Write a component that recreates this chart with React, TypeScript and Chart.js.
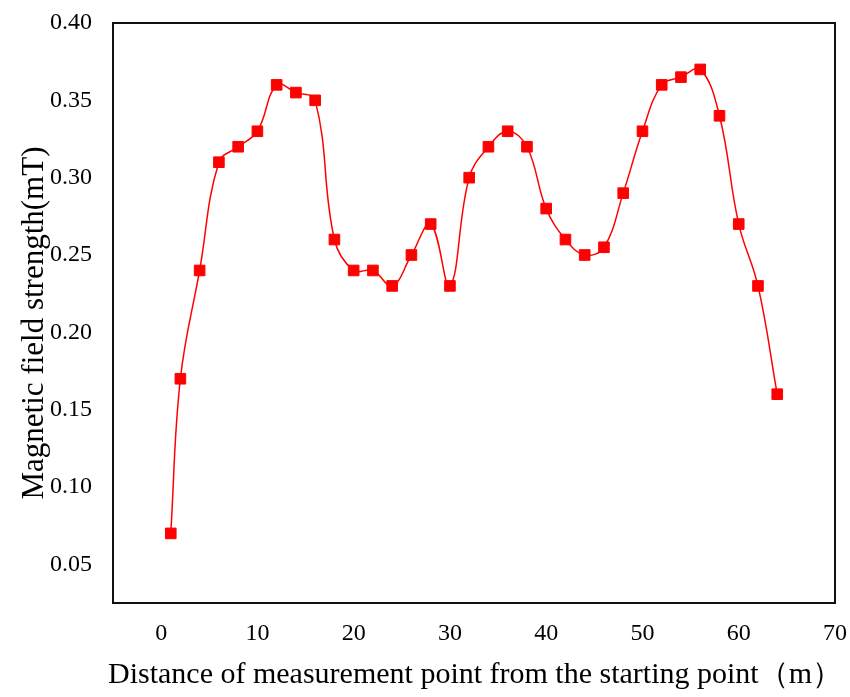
import React, { useEffect, useRef } from "react";
import { Chart, registerables } from "chart.js";

Chart.register(...registerables);

const distances = [1, 2, 4, 6, 8, 10, 12, 14, 16, 18, 20, 22, 24, 26, 28, 30, 32, 34, 36, 38, 40, 42, 44, 46, 48, 50, 52, 54, 56, 58, 60, 62, 64];
const fieldStrength = [0.07, 0.17, 0.24, 0.31, 0.32, 0.33, 0.36, 0.355, 0.35, 0.26, 0.24, 0.24, 0.23, 0.25, 0.27, 0.23, 0.30, 0.32, 0.33, 0.32, 0.28, 0.26, 0.25, 0.255, 0.29, 0.33, 0.36, 0.365, 0.37, 0.34, 0.27, 0.23, 0.16];
const xTicks = [0, 10, 20, 30, 40, 50, 60, 70];
const yTicks = [0.05, 0.10, 0.15, 0.20, 0.25, 0.30, 0.35, 0.40];

const xTitle = "Distance of measurement point from the starting point（m）";
const yTitle = "Magnetic field strength(mT)";

const FONT = "'Liberation Serif', 'Times New Roman', serif";

const framePlugin = {
  id: "frame",
  afterDraw(chart: any) {
    const { ctx, chartArea } = chart;
    ctx.save();
    ctx.strokeStyle = "#111";
    ctx.lineWidth = 2;
    ctx.strokeRect(chartArea.left, chartArea.top, chartArea.right - chartArea.left, chartArea.bottom - chartArea.top);
    ctx.restore();
  },
};

const titlesPlugin = {
  id: "axisTitles",
  afterDraw(chart: any) {
    const { ctx } = chart;
    ctx.save();
    ctx.fillStyle = "#000";
    ctx.textAlign = "center";
    ctx.textBaseline = "alphabetic";
    ctx.font = `30px ${FONT}`;
    ctx.fillText(xTitle, 475, 683);
    ctx.translate(43, 323);
    ctx.rotate(-Math.PI / 2);
    ctx.font = `31px ${FONT}`;
    ctx.fillText(yTitle, 0, 0);
    ctx.restore();
  },
};

export default function App() {
  const ref = useRef<HTMLCanvasElement | null>(null);
  useEffect(() => {
    document.body.style.margin = "0";
    const canvas = ref.current!;
    const chart = new Chart(canvas, {
      type: "line",
      data: {
        datasets: [
          {
            data: distances.map((d, i) => ({ x: d, y: fieldStrength[i] })),
            borderColor: "#FF0000",
            backgroundColor: "#FF0000",
            borderWidth: 1.5,
            tension: 0.4,
            pointStyle: "rect",
            pointRadius: 7.5,
            pointBorderWidth: 1,
            pointBorderColor: "#FF0000",
            pointBackgroundColor: "#FF0000",
            fill: false,
          },
        ],
      },
      options: {
        responsive: false,
        animation: false,
        layout: { padding: { top: 23, right: 15, bottom: 0, left: 0 } },
        plugins: { legend: { display: false }, tooltip: { enabled: false } },
        scales: {
          x: {
            type: "linear",
            min: -5,
            max: 70,
            grid: { display: false, drawTicks: false },
            border: { display: false },
            afterBuildTicks: (axis: any) => {
              axis.ticks = xTicks.map((v) => ({ value: v }));
            },
            afterFit: (axis: any) => {
              axis.height = 94;
              axis.paddingLeft = 0;
              axis.paddingRight = 0;
            },
            ticks: {
              padding: 16,
              color: "#000",
              font: { family: FONT, size: 24 },
              maxRotation: 0,
              autoSkip: false,
            },
          },
          y: {
            type: "linear",
            min: 0.025,
            max: 0.4,
            grid: { display: false, drawTicks: false },
            border: { display: false },
            afterBuildTicks: (axis: any) => {
              axis.ticks = yTicks.map((v) => ({ value: v }));
            },
            afterFit: (axis: any) => {
              axis.width = 113;
              axis.paddingTop = 0;
              axis.paddingBottom = 0;
            },
            ticks: {
              padding: 21,
              color: "#000",
              font: { family: FONT, size: 24 },
              callback: (v: any) => Number(v).toFixed(2),
              autoSkip: false,
            },
          },
        },
      },
      plugins: [framePlugin, titlesPlugin],
    });
    return () => chart.destroy();
  }, []);
  return (
    <div style={{ width: 850, height: 697, background: "#fff" }}>
      <canvas ref={ref} width={850} height={697} />
    </div>
  );
}
